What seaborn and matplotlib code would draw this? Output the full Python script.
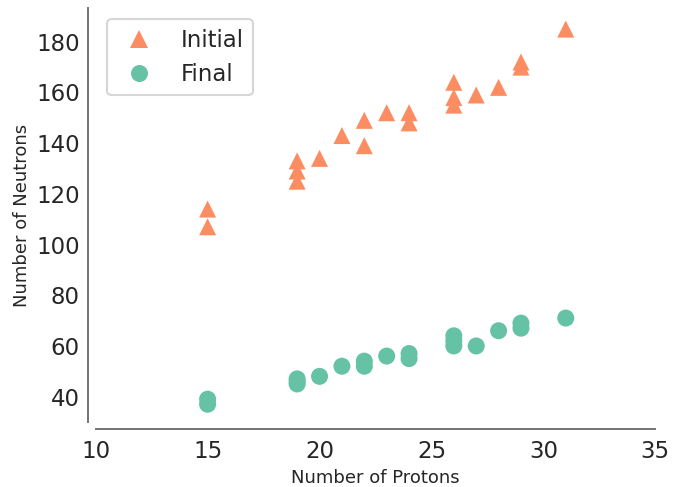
import numpy as np
import pandas as pd
import matplotlib
matplotlib.use("Agg")
import matplotlib.pyplot as plt
import seaborn as sns

# Data
protons = [15, 15, 19, 19, 19, 20, 21, 22, 22, 23, 24, 24, 26, 26, 26, 27, 28, 29, 29, 31]
initial_neutrons = [114, 107, 133, 129, 125, 134, 143, 149, 139, 152, 152, 148,
                    164, 158, 155, 159, 162, 172, 170, 185]
final_neutrons = [39, 37, 47, 46, 45, 48, 52, 54, 52, 56, 57, 55,
                  64, 62, 60, 60, 66, 69, 67, 71]
series_labels = ["Initial", "Final"]

df = pd.DataFrame({
    "Protons": protons * 2,
    "Neutrons": initial_neutrons + final_neutrons,
    "State": [series_labels[0]] * len(protons) + [series_labels[1]] * len(protons),
})

sns.set_theme(context="talk", style="white")
plt.rcParams["font.family"] = ["DejaVu Sans"]
text_color = "#262626"

fig = plt.figure(figsize=(6.96, 4.87), dpi=100)
ax = fig.add_axes([0.1375, 0.1335, 0.804, 0.850])

sns.scatterplot(
    data=df, x="Protons", y="Neutrons", hue="State", style="State",
    hue_order=series_labels, style_order=series_labels,
    palette={"Initial": "#fc8d62", "Final": "#66c2a5"},
    markers={"Initial": "^", "Final": "o"},
    s=150, edgecolor="none", linewidth=0, ax=ax,
)

ax.set_xlim(10, 35)
ax.set_ylim(30, 193.3)
ax.set_xticks([10, 15, 20, 25, 30, 35])
ax.set_yticks([40, 60, 80, 100, 120, 140, 160, 180])

ax.set_xlabel("Number of Protons", fontsize=13, color=text_color)
ax.set_ylabel("Number of Neutrons", fontsize=13, color=text_color)
ax.tick_params(axis="x", length=2.7, width=1.2, color="0.45", labelsize=16.5,
               labelcolor=text_color, pad=5)
ax.tick_params(axis="y", length=0, labelsize=16.5, labelcolor=text_color, pad=6)

sns.despine(ax=ax, offset=5.4)
for side in ["left", "bottom"]:
    ax.spines[side].set_color("0.45")
    ax.spines[side].set_linewidth(1.4)

handles, labels = ax.get_legend_handles_labels()
leg = ax.legend(handles=handles, labels=labels, loc="upper left",
                fontsize=16.5, frameon=True, markerscale=1.0)
leg.get_frame().set_edgecolor("0.8")
for t in leg.get_texts():
    t.set_color(text_color)

fig.savefig("out.png", dpi=100)
